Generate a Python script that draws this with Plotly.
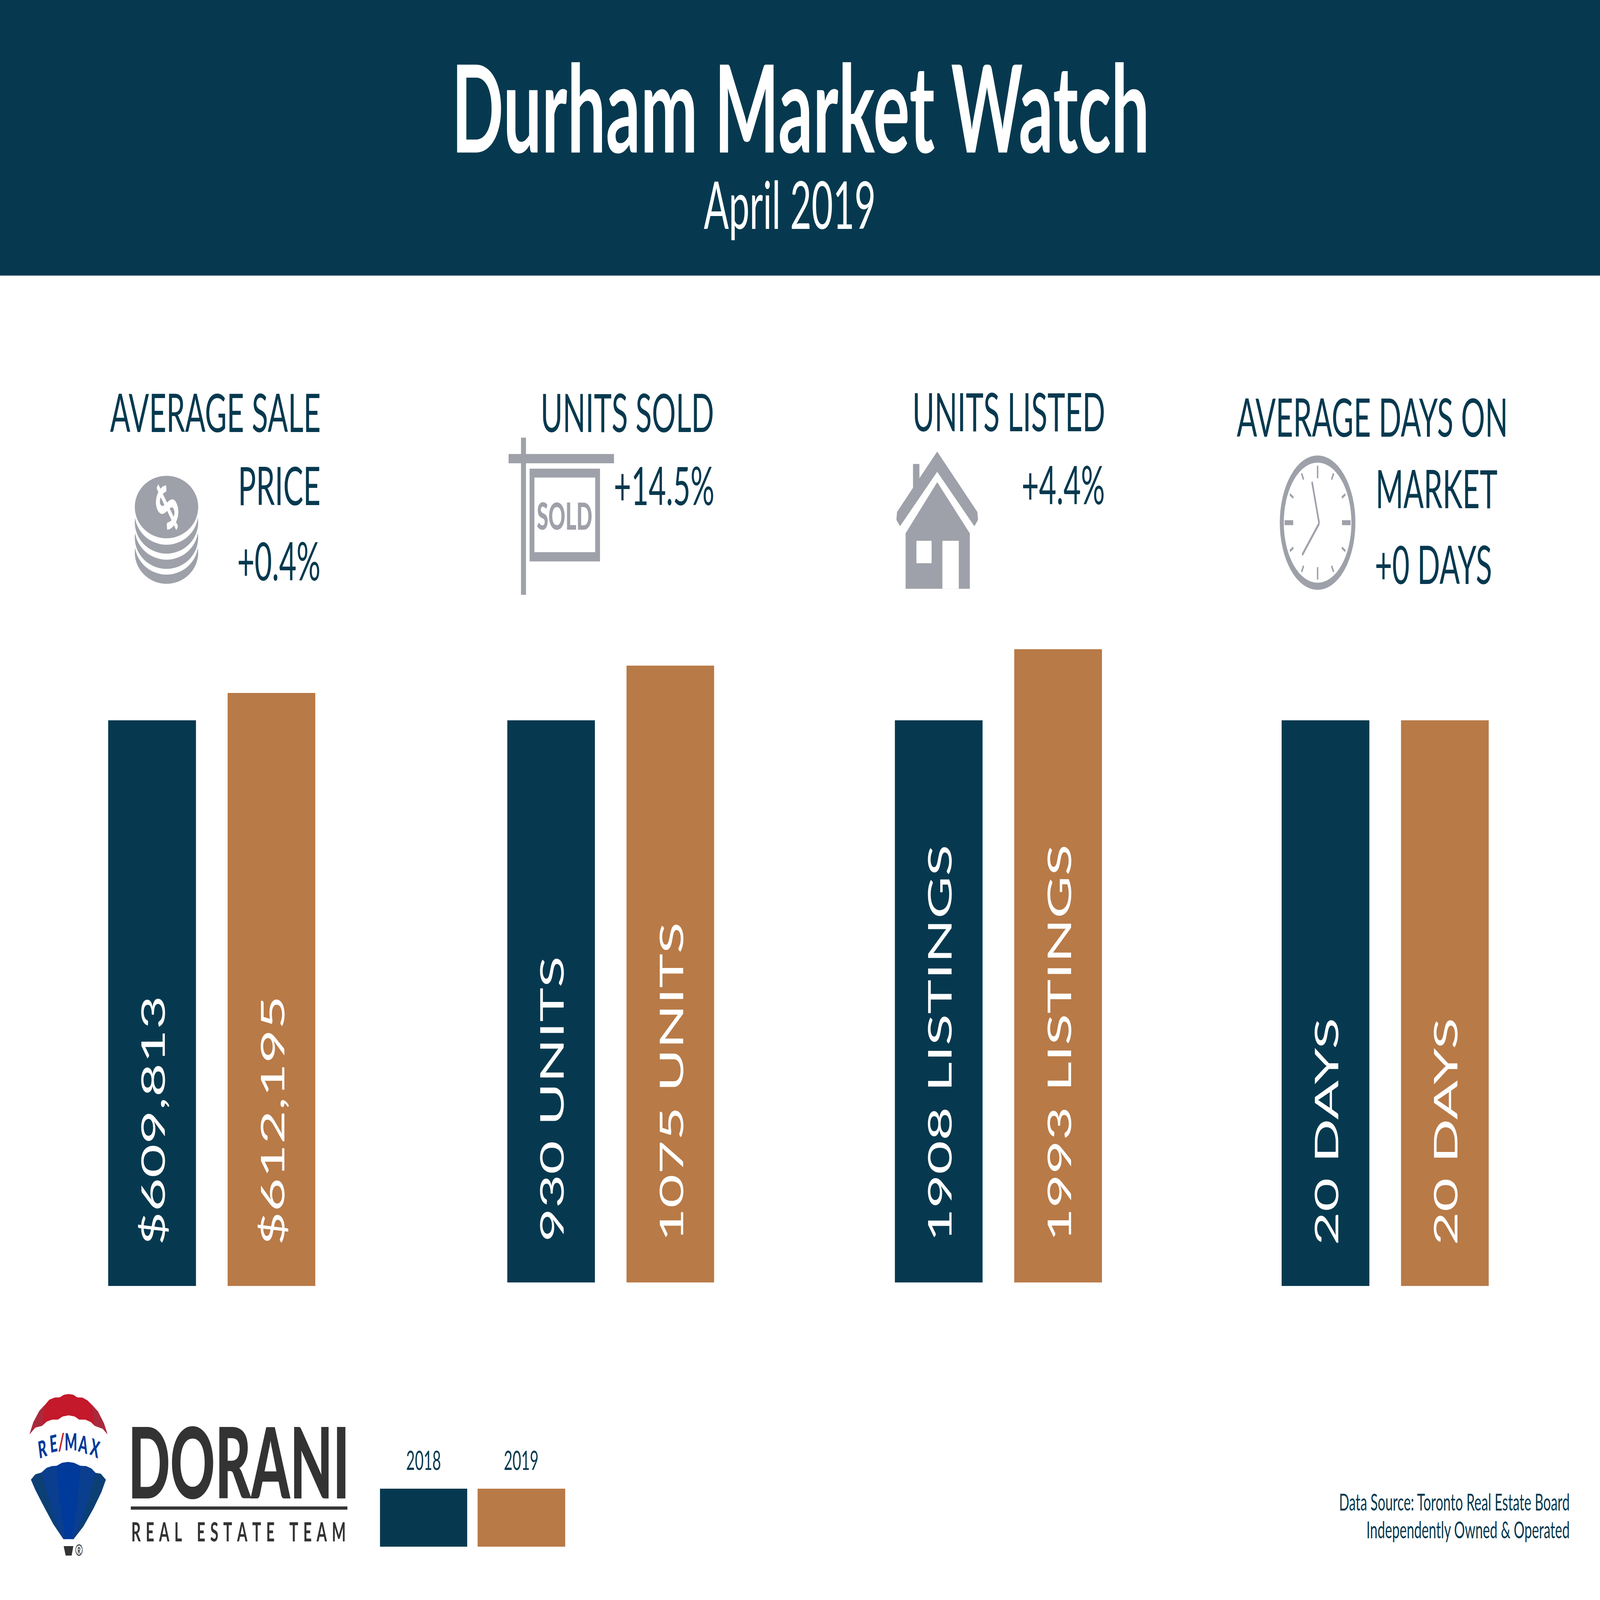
"""Durham Market Watch, April 2019: four small bar panels with header, icons and logo."""

import math

import plotly.graph_objects as go

W, H = 8000, 4500
NAVY = "#06394F"
ORANGE = "#B87A47"
GREY = "#9EA1A9"
CHARCOAL = "#333333"
FONT = "Lato"

YEARS = ["2018", "2019"]
AVG_PRICE = [609813, 612195]
UNITS_SOLD = [930, 1075]
UNITS_LISTED = [1908, 1993]
DAYS_ON_MARKET = [20, 20]

PRICE_LABELS = ["$609,813", "$612,195"]
SOLD_LABELS = ["930 UNITS", "1075 UNITS"]
LISTED_LABELS = ["1908 LISTINGS", "1993 LISTINGS"]
DAYS_LABELS = ["20 DAYS", "20 DAYS"]

# the source axes do not start at zero, these floors are read off the bar heights
AXIS_FLOORS = [560595, -559, 1236, 0]

PANELS = [
    (AVG_PRICE, PRICE_LABELS, AXIS_FLOORS[0], (541, 1577), (1949, 3617)),
    (UNITS_SOLD, SOLD_LABELS, AXIS_FLOORS[1], (2536, 3571), (1872, 3607)),
    (UNITS_LISTED, LISTED_LABELS, AXIS_FLOORS[2], (4474, 5510), (1826, 3607)),
    (DAYS_ON_MARKET, DAYS_LABELS, AXIS_FLOORS[3], (6408, 7444), (2026, 3617)),
]
BAR_WIDTH = 0.735

# the browser window can come out smaller than asked for, so fit the page to it
FIT_WINDOW = f"""
document.body.style.margin = '0';
document.documentElement.style.overflow = 'hidden';
var page = document.getElementById('{{plot_id}}');
page.style.transformOrigin = '0 0';
page.style.transform = 'scale(' + window.innerWidth / {W} + ',' + window.innerHeight / {H} + ')';
"""


def px(x):
    return x / W


def py(y):
    return 1 - y / H


fig = go.Figure()
shapes = []
notes = []


def text(s, x, y, size, color=NAVY, anchor="center", family=FONT, weight=None, angle=0):
    font = dict(family=family, size=size, color=color)
    if weight:
        font["weight"] = weight
    notes.append(
        dict(
            text=s, x=px(x), y=py(y), xref="paper", yref="paper", xanchor=anchor,
            yanchor="middle", showarrow=False, font=font, textangle=angle,
        )
    )


def rect(x0, y0, x1, y1, color):
    shapes.append(
        dict(type="rect", xref="paper", yref="paper", x0=px(x0), x1=px(x1), y0=py(y0), y1=py(y1),
             fillcolor=color, line_width=0, layer="below")
    )


def ellipse(x0, y0, x1, y1, color, line=None, line_width=0):
    shapes.append(
        dict(type="circle", xref="paper", yref="paper", x0=px(x0), x1=px(x1), y0=py(y0), y1=py(y1),
             fillcolor=color, line=dict(color=line or color, width=line_width), layer="below")
    )


def poly(points, color):
    path = "M " + " L ".join(f"{px(x):.5f},{py(y):.5f}" for x, y in points) + " Z"
    shapes.append(dict(type="path", xref="paper", yref="paper", path=path,
                       fillcolor=color, line_width=0, layer="below"))


def segment(x0, y0, x1, y1, color, width):
    shapes.append(
        dict(type="line", xref="paper", yref="paper", x0=px(x0), x1=px(x1), y0=py(y0), y1=py(y1),
             line=dict(color=color, width=width), layer="below")
    )


# bar panels
layout_axes = {}
for i, (values, labels, floor, (left, right), (top, bottom)) in enumerate(PANELS, start=1):
    fig.add_trace(
        go.Bar(
            x=YEARS,
            y=[v - floor for v in values],
            base=floor,
            width=BAR_WIDTH,
            marker=dict(color=[NAVY, ORANGE], line_width=0),
            xaxis=f"x{i}",
            yaxis=f"y{i}",
            showlegend=False,
        )
    )
    layout_axes[f"xaxis{i}"] = dict(
        domain=[px(left), px(right)], range=[-BAR_WIDTH / 2, 1 + BAR_WIDTH / 2],
        type="category", visible=False, anchor=f"y{i}",
    )
    layout_axes[f"yaxis{i}"] = dict(
        domain=[py(bottom), py(top)], range=[floor, max(values)], visible=False, anchor=f"x{i}",
    )
    # category position by index: a digit string like "2018" would be read as a serial number
    for pos, label in enumerate(labels):
        notes.append(
            dict(
                text=label, x=pos, y=floor, xref=f"x{i}", yref=f"y{i}", yshift=112,
                xanchor="center", yanchor="bottom", textangle=-90, showarrow=False,
                font=dict(family=FONT, size=164, color="white"),
            )
        )

# header
rect(0, 0, W, 775, NAVY)
text("Durham Market Watch", 4003, 296, 342, "white", weight=700)
text("April 2019", 3949, 572, 185, "white")

# panel headings
HEAD = 150
text("AVERAGE SALE", 1606, 1157, HEAD, anchor="right")
text("PRICE", 1605, 1362, HEAD, anchor="right")
text("+0.4%", 1605, 1575, HEAD, anchor="right")
text("UNITS SOLD", 3572, 1157, HEAD, anchor="right")
text("+14.5%", 3575, 1363, HEAD, anchor="right")
text("UNITS LISTED", 5528, 1155, HEAD, anchor="right")
text("+4.4%", 5527, 1360, HEAD, anchor="right")
text("AVERAGE DAYS ON", 6182, 1170, HEAD, anchor="left")
text("MARKET", 6876, 1371, HEAD, anchor="left")
text("+0 DAYS", 6872, 1585, HEAD, anchor="left")

# coins
for cy, colour in [(1554, GREY), (1528, "white"), (1512, GREY), (1486, "white"),
                   (1469, GREY), (1444, "white"), (1426, GREY)]:
    ellipse(674, cy - 88, 991, cy + 88, colour)
text("$", 832, 1424, 165, "white", weight=900, angle=-45)

# sold sign
rect(2605, 1231, 2630, 1673, GREY)
rect(2543, 1277, 3070, 1303, GREY)
rect(2648, 1318, 3000, 1579, GREY)
rect(2672, 1343, 2976, 1553, "white")
text("SOLD", 2823, 1449, 105, GREY, family="Lato Black", weight=900)

# house
poly([(4686, 1270), (4887, 1440), (4890, 1462), (4872, 1480), (4686, 1327), (4500, 1480),
      (4482, 1462), (4485, 1440), (4565, 1372), (4565, 1305), (4597, 1305), (4597, 1345)], GREY)
poly([(4686, 1356), (4849, 1500), (4849, 1656), (4528, 1656), (4528, 1500)], GREY)
rect(4582, 1521, 4658, 1584, "white")
rect(4712, 1521, 4794, 1656, "white")

# clock
CLOCK_X, CLOCK_Y = 6588, 1470
ellipse(CLOCK_X - 179, CLOCK_Y - 179, CLOCK_X + 179, CLOCK_Y + 179, "white", GREY, 20)
for hour in range(12):
    a = math.radians(hour * 30)
    if hour % 6 == 0:
        inner, outer, tick = 125, 160, 7
    elif hour % 3 == 0:
        inner, outer, tick = 122, 165, 14
    else:
        inner, outer, tick = 140, 160, 7
    segment(CLOCK_X + inner * math.sin(a), CLOCK_Y - inner * math.cos(a),
            CLOCK_X + outer * math.sin(a), CLOCK_Y - outer * math.cos(a), GREY, tick)
segment(6596, 1472, 6560, 1355, GREY, 8)
segment(6596, 1472, 6511, 1561, GREY, 8)


# RE/MAX balloon, traced in zoomed crop pixels: 3 crop px = 1 page px
def bx(points):
    return [(100 + x / 3, 3880 + y / 3) for x, y in points]


poly(bx([(143, 462), (200, 360), (290, 265), (375, 213), (440, 170), (520, 152), (595, 150),
         (660, 128), (730, 122), (800, 128), (858, 150), (935, 152), (1010, 175), (1078, 213),
         (1170, 270), (1260, 370), (1312, 462), (1240, 415), (1120, 390), (1060, 358), (980, 338),
         (888, 338), (820, 312), (730, 302), (640, 312), (568, 338), (480, 338), (400, 355),
         (332, 390), (230, 405)]), "#C4182B")
poly(bx([(143, 462), (200, 360), (290, 265), (375, 213), (332, 390), (230, 405)]), "#A92A3C")
poly(bx([(1312, 462), (1260, 370), (1170, 270), (1078, 213), (1120, 390), (1240, 415)]), "#A92A3C")
poly(bx([(165, 845), (230, 800), (322, 785), (400, 745), (480, 730), (548, 728), (630, 702),
         (720, 695), (810, 702), (905, 728), (990, 730), (1070, 750), (1132, 787), (1210, 795),
         (1287, 845), (1220, 950), (1100, 1090), (950, 1240), (802, 1347), (652, 1347), (500, 1220),
         (330, 1040), (230, 930)]), "#003A9B")
poly(bx([(322, 785), (400, 745), (480, 730), (548, 728), (600, 1050), (680, 1347), (652, 1347),
         (500, 1150)]), "#0A3E8E")
poly(bx([(1132, 787), (1070, 750), (990, 730), (905, 728), (860, 1050), (775, 1347), (802, 1347),
         (960, 1150)]), "#0A3E8E")
poly(bx([(165, 845), (230, 800), (322, 785), (500, 1150), (652, 1347), (500, 1220), (330, 1040),
         (230, 930)]), "#0C4074")
poly(bx([(1287, 845), (1210, 795), (1132, 787), (960, 1150), (802, 1347), (950, 1240), (1100, 1090),
         (1220, 950)]), "#0C4074")
poly(bx([(655, 1405), (800, 1405), (775, 1485), (685, 1485)]), CHARCOAL)
ellipse(100 + 835 / 3, 3880 + 1395 / 3, 100 + 935 / 3, 3880 + 1482 / 3, "white", CHARCOAL, 3)
text("R", 100 + 885 / 3, 3880 + 1440 / 3, 24, CHARCOAL, weight=700)
for letter, zx, zy, angle, colour in [("R", 335, 580, -12, "#003A9B"), ("E", 500, 535, -8, "#003A9B"),
                                      ("/", 620, 522, 0, "#C4182B"), ("M", 762, 520, 0, "#003A9B"),
                                      ("A", 950, 540, 10, "#003A9B"), ("X", 1125, 575, 16, "#003A9B")]:
    text(letter, 100 + zx / 3, 3880 + zy / 3, 66, colour, weight=900, angle=angle)

# Dorani wordmark
text("DORANI", 638, 4107, 277, CHARCOAL, anchor="left", family="Lato Black", weight=900)
rect(654, 4237, 1737, 4246, CHARCOAL)
text("R\u2004E\u2004A\u2004L\u2002\u2002E\u2004S\u2004T\u2004A\u2004T\u2004E\u2002\u2002T\u2004E\u2004A\u2004M",
     654, 4306, 74, CHARCOAL, anchor="left", weight=700)

# year key
text("2018", 2118, 4105, 75)
text("2019", 2606, 4105, 75)
rect(1900, 4187, 2336, 4350, NAVY)
rect(2388, 4187, 2826, 4350, ORANGE)

# source lines
text("Data Source: Toronto Real Estate Board", 7850, 4222, 67, anchor="right")
text("Independently Owned &amp; Operated", 7850, 4300, 67, anchor="right")

fig.update_layout(
    width=W,
    height=H,
    margin=dict(l=0, r=0, t=0, b=0),
    paper_bgcolor="white",
    plot_bgcolor="rgba(0,0,0,0)",
    shapes=shapes,
    annotations=notes,
    **layout_axes,
)

fig.write_html("out.html", config={"displayModeBar": False}, post_script=FIT_WINDOW)
